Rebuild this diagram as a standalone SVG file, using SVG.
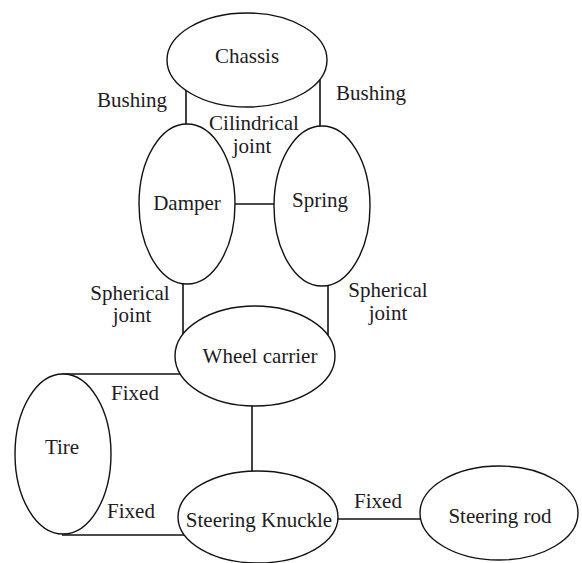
<svg xmlns="http://www.w3.org/2000/svg" width="582" height="563" viewBox="0 0 582 563">
<style>
.node ellipse{fill:#fff;stroke:#111;stroke-width:1.4}
.edges line{stroke:#111;stroke-width:1.6}
text{font-family:'Liberation Serif','Tinos','Times New Roman','DejaVu Serif',serif;font-size:21px;fill:#221a22;text-anchor:middle}
</style>
<rect width="582" height="563" fill="#fff"/>
<g class="edges" id="connectors">
<line x1="186" y1="90" x2="186" y2="125"/>
<line x1="320" y1="79" x2="320" y2="127"/>
<line x1="235" y1="204" x2="274" y2="204"/>
<line x1="183" y1="284" x2="183" y2="335"/>
<line x1="328" y1="286" x2="328" y2="336"/>
<line x1="62" y1="374" x2="180" y2="374"/>
<line x1="62" y1="535" x2="184" y2="535"/>
<line x1="252" y1="406" x2="252" y2="471"/>
<line x1="338" y1="519" x2="420" y2="519"/>
</g>
<g id="labels">
<text x="132" y="107">Bushing</text>
<text x="371" y="100">Bushing</text>
<text x="254" y="130">Cilindrical</text>
<text x="252" y="153">joint</text>
<text x="130" y="300">Spherical</text>
<text x="132" y="322">joint</text>
<text x="388" y="297">Spherical</text>
<text x="388" y="320">joint</text>
<text x="135" y="400">Fixed</text>
<text x="131" y="518">Fixed</text>
<text x="378" y="508">Fixed</text>
</g>
<g class="node" id="chassis"><ellipse cx="247" cy="60" rx="80" ry="47"/><text x="247" y="63">Chassis</text></g>
<g class="node" id="damper"><ellipse cx="187" cy="204" rx="48" ry="80"/><text x="187" y="210">Damper</text></g>
<g class="node" id="spring"><ellipse cx="322" cy="206" rx="48" ry="80"/><text x="320" y="207">Spring</text></g>
<g class="node" id="wheel-carrier"><ellipse cx="255" cy="356" rx="80" ry="50"/><text x="260" y="363">Wheel carrier</text></g>
<g class="node" id="tire"><ellipse cx="63" cy="454" rx="48" ry="80"/><text x="62" y="454">Tire</text></g>
<g class="node" id="steering-knuckle"><ellipse cx="258" cy="517" rx="80" ry="46"/><text x="259" y="527">Steering Knuckle</text></g>
<g class="node" id="steering-rod"><ellipse cx="499" cy="513" rx="79" ry="47"/><text x="500" y="523">Steering rod</text></g>
</svg>
